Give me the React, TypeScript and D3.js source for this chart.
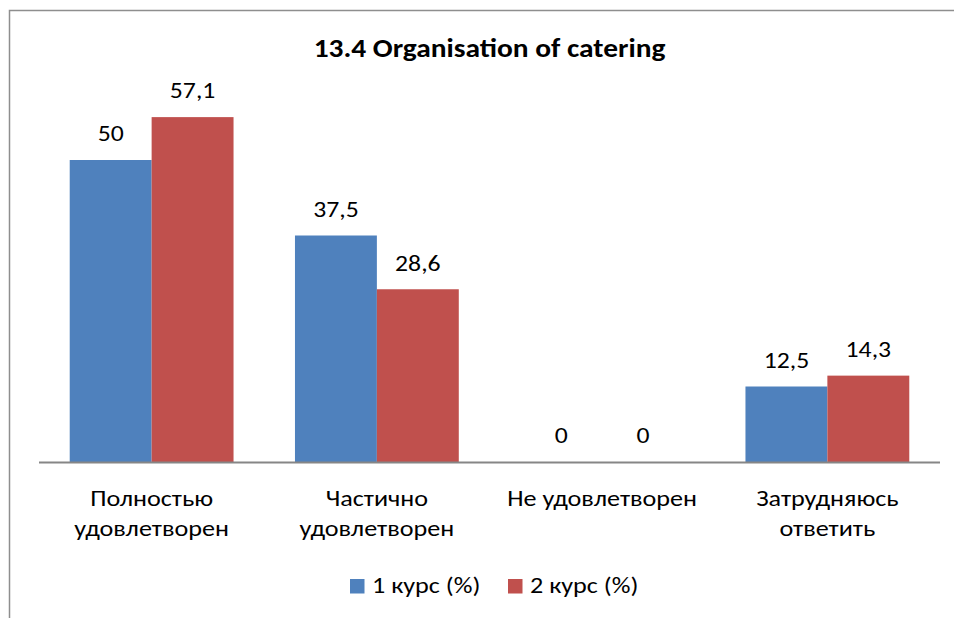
import React from "react";
import * as d3 from "d3";

const categories = ["Полностью удовлетворен", "Частично удовлетворен", "Не удовлетворен", "Затрудняюсь ответить"];
const categoryLines = [["Полностью", "удовлетворен"], ["Частично", "удовлетворен"], ["Не удовлетворен"], ["Затрудняюсь", "ответить"]];
const seriesNames = ["1 курс (%)", "2 курс (%)"];
const course1 = [50, 37.5, 0, 12.5];
const course2 = [57.1, 28.6, 0, 14.3];
const seriesColors = ["#4F81BD", "#C0504D"];
const title = "13.4 Organisation of catering";

const W = 954;
const H = 618;
const FONT = "Carlito, Lato, 'Open Sans', 'Noto Sans', sans-serif";
const SX = 1.2;

function SText(props: {
  x: number;
  y: number;
  size: number;
  sx: number;
  anchor?: "start" | "middle" | "end";
  bold?: boolean;
  children: React.ReactNode;
}) {
  return (
    <text
      transform={`translate(${props.x},${props.y}) scale(${props.sx},1)`}
      textAnchor={props.anchor || "start"}
      fontFamily={FONT}
      fontSize={props.size}
      fontWeight={props.bold ? "bold" : "normal"}
      fill="#000"
    >
      {props.children}
    </text>
  );
}

export default function App() {
  const x0 = d3.scaleBand<string>().domain(categories).range([39, 940]).paddingInner(0).paddingOuter(0);
  const x1 = d3.scaleBand<string>().domain(seriesNames).range([0, x0.bandwidth()]).paddingInner(0).paddingOuter(0.375);
  const y = d3.scaleLinear().domain([0, 60]).range([462, 99.6]);
  const series = [course1, course2];
  const fmt = (v: number) => String(v).replace(".", ",");

  return (
    <svg width={W} height={H} style={{ position: "absolute", left: 0, top: 0, background: "#fff" }}>
      <rect x={9.5} y={10.5} width={1200} height={900} fill="#fff" stroke="#8E8E8E" strokeWidth={1.5} />
      <SText x={489.5} y={57} size={26.5} sx={1.11} anchor="middle" bold>
        {title}
      </SText>
      {categories.map((c, i) => (
        <g key={c} transform={`translate(${x0(c)},0)`}>
          {seriesNames.map((s, j) => {
            const v = series[j][i];
            const bx = x1(s) as number;
            return (
              <g key={s}>
                {v > 0 && (
                  <rect x={bx} y={y(v)} width={x1.bandwidth()} height={y(0) - y(v)} fill={seriesColors[j]} />
                )}
                <SText x={bx + x1.bandwidth() / 2} y={y(v) - 18.7} size={21.8} sx={1.18} anchor="middle">
                  {fmt(v)}
                </SText>
              </g>
            );
          })}
          {categoryLines[i].map((ln, k) => (
            <SText key={k} x={x0.bandwidth() / 2} y={506 + k * 30} size={21.8} sx={SX} anchor="middle">
              {ln}
            </SText>
          ))}
        </g>
      ))}
      <line x1={39} x2={940} y1={y(0) + 0.5} y2={y(0) + 0.5} stroke="#868686" strokeWidth={2} />
      {seriesNames.map((s, j) => {
        const lx = 350 + j * 158;
        return (
          <g key={s}>
            <rect x={lx} y={579} width={14.5} height={14.5} fill={seriesColors[j]} />
            <SText x={lx + 22} y={593} size={21.8} sx={SX}>
              {s}
            </SText>
          </g>
        );
      })}
    </svg>
  );
}
